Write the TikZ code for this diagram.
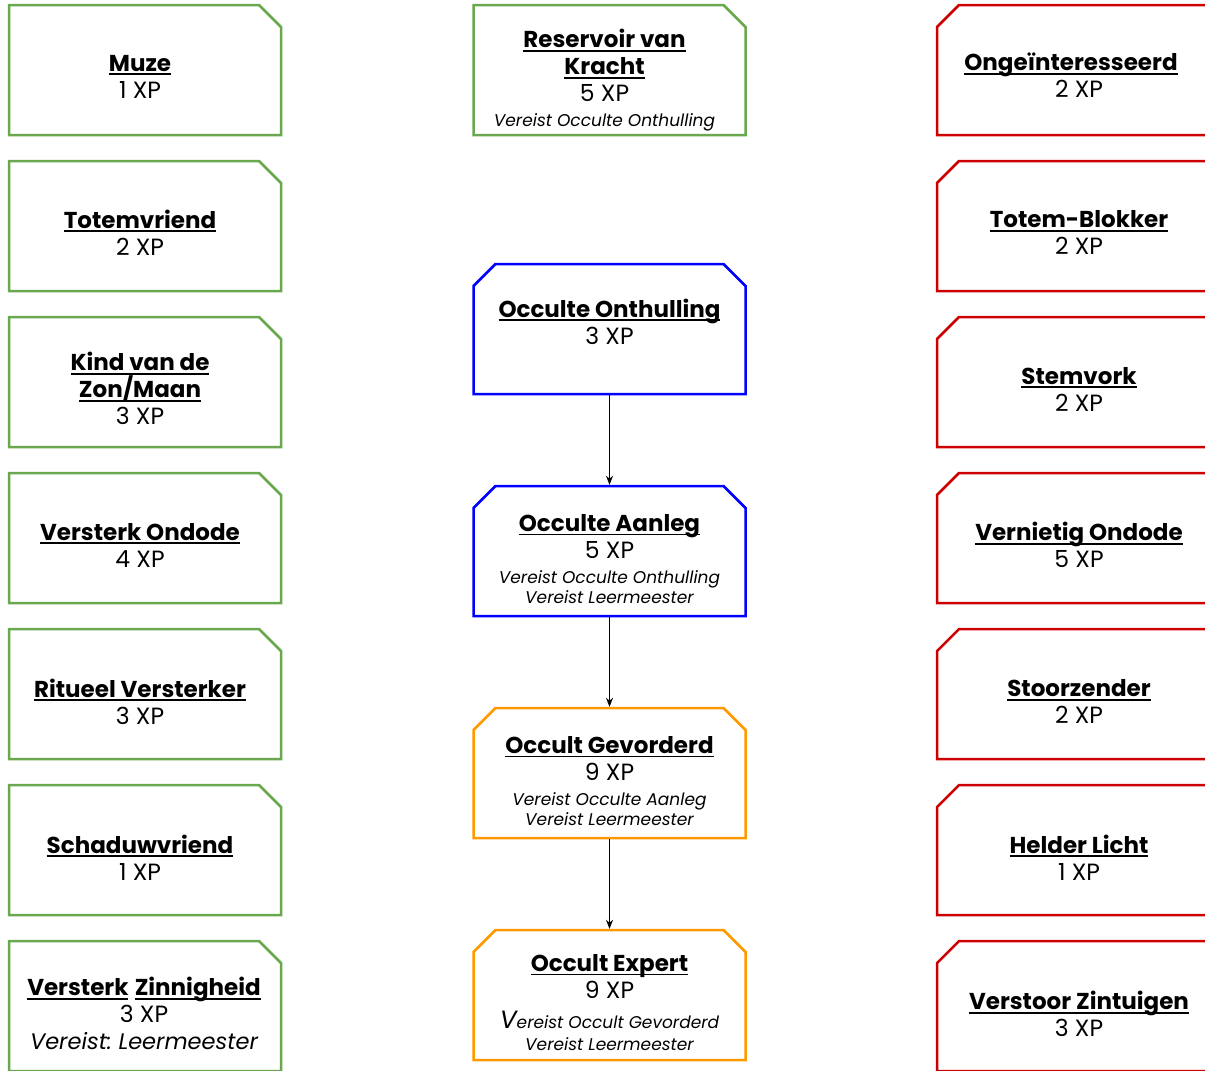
\documentclass[tikz,border=0pt]{standalone}
\usepackage{fontspec}
\setmainfont{Poppins}
\frenchspacing
\usetikzlibrary{arrows.meta}
\definecolor{skgreen}{HTML}{6AA84F}
\definecolor{skred}{HTML}{CC0000}
\definecolor{skblue}{HTML}{0000FF}
\definecolor{skorange}{HTML}{FF9900}
% bold heading with a flat underline
\newcommand\ulhead[1]{\setbox0=\hbox{\fontsize{23}{27}\selectfont\bfseries #1}\rlap{\rule[-4pt]{\wd0}{1.9pt}}\copy0}
\newcommand\req[1]{{\fontsize{17}{20}\selectfont\itshape #1}}
% outlines with cut corners, drawn from a node's anchors
\newcommand\cutNE[2]{\draw[#2] (#1.south west) -- (#1.north west) -- ([xshift=-22pt]#1.north east)
  -- ([yshift=-22pt]#1.north east) -- (#1.south east) -- cycle;}
\newcommand\cutNW[2]{\draw[#2] (#1.south west) -- ([yshift=-22pt]#1.north west) -- ([xshift=22pt]#1.north west)
  -- (#1.north east) -- (#1.south east) -- cycle;}
\newcommand\cutTop[2]{\draw[#2] (#1.south west) -- ([yshift=-22pt]#1.north west) -- ([xshift=22pt]#1.north west)
  -- ([xshift=-22pt]#1.north east) -- ([yshift=-22pt]#1.north east) -- (#1.south east) -- cycle;}
\tikzset{
  card/.style={rectangle, minimum width=272pt, minimum height=130pt, inner sep=0pt, outer sep=0pt},
  edge/.style={line width=2.5pt, line join=miter},
  txt/.style={align=center, font=\fontsize{23.5}{27}\selectfont, inner sep=0pt},
  arr/.style={-{Stealth[length=9pt,width=7pt]}, line width=0.9pt, shorten >=1.2pt, shorten <=1.2pt}
}
\begin{document}
\begin{tikzpicture}[x=1pt,y=-1pt]
\useasboundingbox (0,0) rectangle (1205,1071);
\clip (0,0) rectangle (1205,1071);

% left column
\node[card] (muze) at (145,70) {};
\node[card] (totem) at (145,226) {};
\node[card] (kind) at (145,382) {};
\node[card] (vond) at (145,538) {};
\node[card] (ritu) at (145,694) {};
\node[card] (schad) at (145,850) {};
\node[card] (vzin) at (145,1006) {};
\foreach \n in {muze,totem,kind,vond,ritu,schad,vzin}{\cutNE{\n}{edge,skgreen}}

\node[txt] (t-muze) at (140,76.5) {\ulhead{Muze}\\1 XP};
\node[txt] (t-totem) at (140,232.5) {\ulhead{Totemvriend}\\2 XP};
\node[txt] (t-kind) at (140,388.5) {\ulhead{Kind van de}\\\ulhead{Zon/Maan}\\3 XP};
\node[txt] (t-vond) at (140,545) {\ulhead{Versterk Ondode}\\4 XP};
\node[txt] (t-ritu) at (140,701.5) {\ulhead{Ritueel Versterker}\\3 XP};
\node[txt] (t-schad) at (140,857.5) {\ulhead{Schaduwvriend}\\1 XP};
\node[txt] (t-vzin) at (144,1013.5) {\ulhead{Versterk}\ \ulhead{Zinnigheid}\\3 XP\\{\fontsize{22.5}{27}\selectfont\itshape Vereist: Leermeester}};

% middle column
\node[card] (res) at (609.5,70) {};
\node[card] (oo) at (609.5,329) {};
\node[card] (oa) at (609.5,551) {};
\node[card] (og) at (609.5,773) {};
\node[card] (oe) at (609.5,995) {};
\cutNE{res}{edge,skgreen}
\cutTop{oo}{edge,skblue}
\cutTop{oa}{edge,skblue}
\cutTop{og}{edge,skorange}
\cutTop{oe}{edge,skorange}

\node[txt] (t-res) at (604.5,80.5) {\ulhead{Reservoir van}\\\ulhead{Kracht}\\5 XP\\[-2pt]\req{Vereist Occulte Onthulling}};
\node[txt] (t-oo) at (609.5,321.5) {\ulhead{Occulte Onthulling}\\3 XP};
\node[txt] (t-oa) at (609.5,559) {\ulhead{Occulte Aanleg}\\5 XP\\[-2pt]\req{Vereist Occulte Onthulling}\\[-7pt]\req{Vereist Leermeester}};
\node[txt] (t-og) at (609.5,781) {\ulhead{Occult Gevorderd}\\9 XP\\[-2pt]\req{Vereist Occulte Aanleg}\\[-7pt]\req{Vereist Leermeester}};
\node[txt] (t-oe) at (609.5,1002.5) {\ulhead{Occult Expert}\\9 XP\\[3pt]\req{{\fontsize{25}{27}\selectfont V}ereist Occult Gevorderd}\\[-5pt]\req{Vereist Leermeester}};

\draw[arr] (oo) -- (oa);
\draw[arr] (oa) -- (og);
\draw[arr] (og) -- (oe);

% right column
\node[card] (onge) at (1073,70) {};
\node[card] (tblok) at (1073,226) {};
\node[card] (stem) at (1073,382) {};
\node[card] (vniet) at (1073,538) {};
\node[card] (stoor) at (1073,694) {};
\node[card] (held) at (1073,850) {};
\node[card] (vstoor) at (1073,1006) {};
\foreach \n in {onge,tblok,stem,vniet,stoor,held,vstoor}{\cutNW{\n}{edge,skred}}

\node[txt] (t-onge) at (1071,75.5) {\ulhead{Ongeïnteresseerd}\\\hspace*{16pt}2 XP};
\node[txt] (t-tblok) at (1079,232.5) {\ulhead{Totem-Blokker}\\2 XP};
\node[txt] (t-stem) at (1079,389) {\ulhead{Stemvork}\\2 XP};
\node[txt] (t-vniet) at (1079,545) {\ulhead{Vernietig Ondode}\\5 XP};
\node[txt] (t-stoor) at (1079,701.5) {\ulhead{Stoorzender}\\2 XP};
\node[txt] (t-held) at (1079,857.5) {\ulhead{Helder Licht}\\1 XP};
\node[txt] (t-vstoor) at (1079,1014) {\ulhead{Verstoor Zintuigen}\\3 XP};
\end{tikzpicture}
\end{document}
